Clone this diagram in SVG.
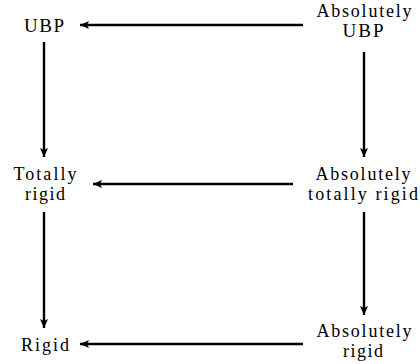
<svg xmlns="http://www.w3.org/2000/svg" width="420" height="364" viewBox="0 0 420 364">
<style>
text{font-family:"Liberation Serif","Times New Roman",serif;font-size:18px;fill:#000;text-anchor:middle}
.c{stroke:#000;stroke-width:2.4;fill:none;marker-end:url(#ah)}
</style>
<defs>
<marker id="ah" markerUnits="userSpaceOnUse" markerWidth="12" markerHeight="10" refX="9" refY="4" orient="auto" viewBox="0 0 12 8">
<path d="M0,0 L9,4 L0,8 L2,4 Z" fill="#000"/>
</marker>
</defs>
<rect width="420" height="364" fill="#fff"/>
<g id="connectors">
<line class="c" x1="303" y1="25" x2="80" y2="25"/>
<line class="c" x1="293" y1="184" x2="93" y2="184"/>
<line class="c" x1="303" y1="344" x2="80" y2="344"/>
<line class="c" x1="44" y1="42" x2="44" y2="157"/>
<line class="c" x1="364" y1="52" x2="364" y2="157"/>
<line class="c" x1="44" y1="212" x2="44" y2="328"/>
<line class="c" x1="364" y1="212" x2="364" y2="315"/>
</g>
<g id="ubp"><text x="44" y="32" style="font-size:19px" textLength="40">UBP</text></g>
<g id="abs-ubp"><text x="364" y="17" textLength="95">Absolutely</text><text x="363" y="37" style="font-size:19px" textLength="41">UBP</text></g>
<g id="totally-rigid"><text x="45" y="180" textLength="63">Totally</text><text x="45" y="200" textLength="40">rigid</text></g>
<g id="abs-totally-rigid"><text x="363" y="180" textLength="95">Absolutely</text><text x="363" y="200" textLength="110">totally rigid</text></g>
<g id="rigid"><text x="45" y="351" textLength="48">Rigid</text></g>
<g id="abs-rigid"><text x="364" y="337" textLength="95">Absolutely</text><text x="363" y="357" textLength="40">rigid</text></g>
</svg>
